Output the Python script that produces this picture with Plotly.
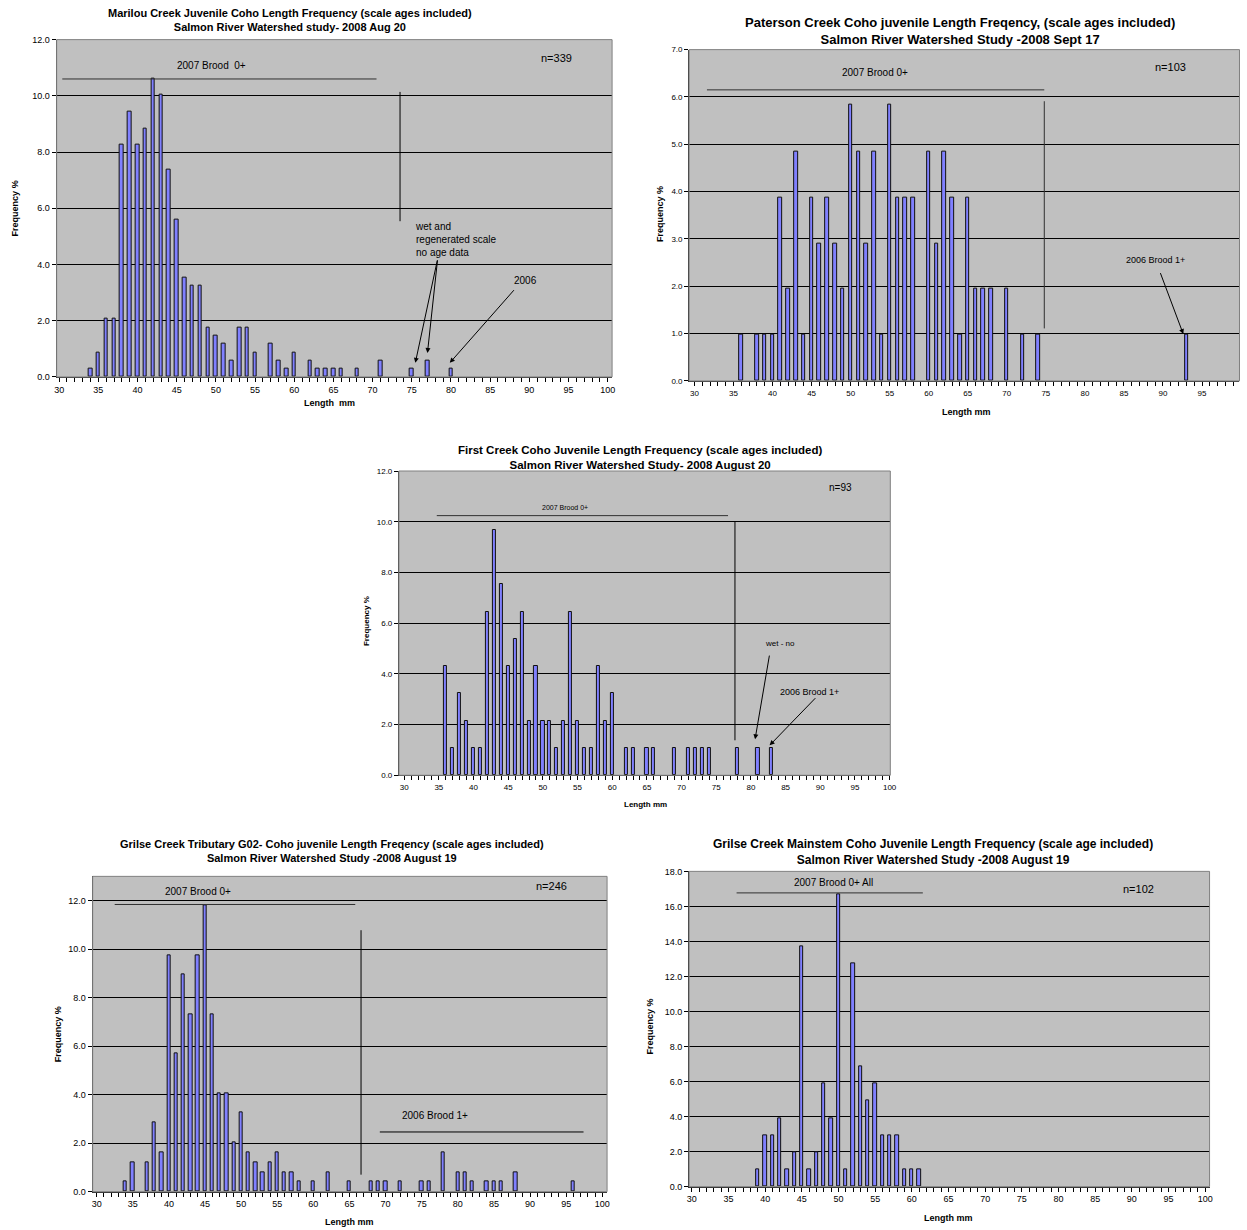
import plotly.graph_objects as go

W, H = 1247, 1230
FONT = "Liberation Sans, Arial, sans-serif"

# ---------------- data (length mm, frequency %) ----------------
marilou_len = [34, 35, 36, 37, 38, 39, 40, 41, 42, 43, 44, 45, 46, 47, 48, 49, 50, 51, 52, 53,
               54, 55, 57, 58, 59, 60, 62, 63, 64, 65, 66, 68, 71, 75, 77, 80]
marilou_pct = [0.29, 0.88, 2.06, 2.06, 8.26, 9.44, 8.26, 8.85, 10.62, 10.03, 7.37, 5.60, 3.54, 3.24,
               3.24, 1.77, 1.47, 1.18, 0.59, 1.77, 1.77, 0.88, 1.18, 0.59, 0.29, 0.88, 0.59, 0.29,
               0.29, 0.29, 0.29, 0.29, 0.59, 0.29, 0.59, 0.29]

paterson_len = [36, 38, 39, 40, 41, 42, 43, 44, 45, 46, 47, 48, 49, 50, 51, 52, 53, 54, 55, 56,
                57, 58, 60, 61, 62, 63, 64, 65, 66, 67, 68, 70, 72, 74, 93]
paterson_pct = [0.97, 0.97, 0.97, 0.97, 3.88, 1.94, 4.85, 0.97, 3.88, 2.91, 3.88, 2.91, 1.94, 5.83,
                4.85, 2.91, 4.85, 0.97, 5.83, 3.88, 3.88, 3.88, 4.85, 2.91, 4.85, 3.88, 0.97, 3.88,
                1.94, 1.94, 1.94, 1.94, 0.97, 0.97, 0.97]

first_len = [36, 37, 38, 39, 40, 41, 42, 43, 44, 45, 46, 47, 48, 49, 50, 51, 52, 53, 54, 55, 56,
             57, 58, 59, 60, 62, 63, 65, 66, 69, 71, 72, 73, 74, 78, 81, 83]
first_pct = [4.30, 1.08, 3.23, 2.15, 1.08, 1.08, 6.45, 9.68, 7.53, 4.30, 5.38, 6.45, 2.15, 4.30,
             2.15, 2.15, 1.08, 2.15, 6.45, 2.15, 1.08, 1.08, 4.30, 2.15, 3.23, 1.08, 1.08, 1.08,
             1.08, 1.08, 1.08, 1.08, 1.08, 1.08, 1.08, 1.08, 1.08]

g02_len = [34, 35, 37, 38, 39, 40, 41, 42, 43, 44, 45, 46, 47, 48, 49, 50, 51, 52, 53, 54, 55,
           56, 57, 58, 60, 62, 65, 68, 69, 70, 72, 75, 76, 78, 80, 81, 82, 84, 85, 86, 88, 96]
g02_pct = [0.41, 1.22, 1.22, 2.85, 1.63, 9.76, 5.69, 8.94, 7.32, 9.76, 11.79, 7.32, 4.07, 4.07,
           2.03, 3.25, 1.63, 1.22, 0.81, 1.22, 1.63, 0.81, 0.81, 0.41, 0.41, 0.81, 0.41, 0.41,
           0.41, 0.41, 0.41, 0.41, 0.41, 1.63, 0.81, 0.81, 0.41, 0.41, 0.41, 0.41, 0.81, 0.41]

mainstem_len = [39, 40, 41, 42, 43, 44, 45, 46, 47, 48, 49, 50, 51, 52, 53, 54, 55, 56, 57, 58,
                59, 60, 61]
mainstem_pct = [0.98, 2.94, 2.94, 3.92, 0.98, 1.96, 13.73, 0.98, 1.96, 5.88, 3.92, 16.67, 0.98,
                12.75, 6.86, 4.90, 5.88, 2.94, 2.94, 2.94, 0.98, 0.98, 0.98]

x_tick_vals = [30, 35, 40, 45, 50, 55, 60, 65, 70, 75, 80, 85, 90, 95, 100]

titles = [
    "Marilou Creek Juvenile Coho Length Frequency (scale ages included)<br>Salmon River Watershed study- 2008 Aug 20",
    "Paterson Creek Coho juvenile Length Freqency, (scale ages included)<br>Salmon River Watershed Study -2008 Sept 17",
    "First Creek Coho Juvenile Length Frequency (scale ages included)<br>Salmon River Watershed Study- 2008 August 20",
    "Grilse Creek Tributary G02- Coho juvenile Length Freqency (scale ages included)<br>Salmon River Watershed Study -2008 August 19",
    "Grilse Creek Mainstem Coho Juvenile Length Frequency (scale age included)<br>Salmon River Watershed Study -2008 August 19",
]
n_labels = ["n=339", "n=103", "n=93", "n=246", "n=102"]

# ---------------- layout helpers ----------------
SCX, OX = 0.992, 2.4
SCY, OY = 0.991, 6.4
RMAX = OX + SCX * W   # right-most reachable position


def fx(px):
    return min(max(((px - OX) / SCX) / W, 0.0), 1.0)


def fy(py):
    return min(max(1 - ((py - OY) / SCY) / H, 0.0), 1.0)


panels = [
    dict(x=marilou_len, y=marilou_pct, box=(57, 41, 612, 378), xr=[29.68, 100.56], ymax=12, dt=2,
         tick=9, tsize=11, tpos=(290, 21), ylab=(15, 210), xlab=(330, 404), xlabtxt="Length  mm", lab=9),
    dict(x=paterson_len, y=paterson_pct, box=(689, 51, 1244, 382), xr=[29.32, 100.45], ymax=7, dt=1,
         tick=8, tsize=13, tpos=(960, 32), ylab=(660, 215), xlab=(966, 413), xlabtxt="Length mm", lab=9),
    dict(x=first_len, y=first_pct, box=(399, 472, 890, 776), xr=[29.24, 100.1], ymax=12, dt=2,
         tick=8, tsize=11.5, tpos=(640, 459), ylab=(366, 622), xlab=(645, 805), xlabtxt="Length mm", lab=8),
    dict(x=g02_len, y=g02_pct, box=(93, 877, 607, 1192), xr=[29.45, 100.66], ymax=13, dt=2,
         tick=9, tsize=11, tpos=(332, 852), ylab=(58, 1035), xlab=(350, 1222), xlabtxt="Length mm", lab=9),
    dict(x=mainstem_len, y=mainstem_pct, box=(689, 872, 1209, 1187), xr=[29.63, 100.6], ymax=18, dt=2,
         tick=9, tsize=12, tpos=(933, 853), ylab=(650, 1027), xlab=(948, 1218), xlabtxt="Length mm", lab=9),
]

fig = go.Figure()
layout = dict(
    width=W, height=H,
    margin=dict(l=0, r=0, t=0, b=0),
    paper_bgcolor="white",
    plot_bgcolor="#c0c0c0",
    showlegend=False,
    font=dict(family=FONT, color="black"),
    bargap=0,
)
annotations = []
shapes = []

for i, p in enumerate(panels):
    sfx = "" if i == 0 else str(i + 1)
    xa, ya = "x" + sfx, "y" + sfx
    l, t, r, b = p["box"]
    xr = list(p["xr"])
    if r > RMAX - 0.5:   # keep the data scale when the box is clipped at the page edge
        ppm = (r - l) / (xr[1] - xr[0])
        r = RMAX - 0.5
        xr[1] = xr[0] + (r - l) / ppm
    fig.add_trace(go.Bar(
        x=p["x"], y=p["y"], xaxis=xa, yaxis=ya, width=0.45,
        marker=dict(color="#8080ff", line=dict(color="#101010", width=1)),
        hoverinfo="x+y",
    ))
    yt = [k * p["dt"] for k in range(int(p["ymax"] // p["dt"]) + 1)]
    layout["xaxis" + sfx] = dict(
        domain=[fx(l), fx(r)], anchor=ya, range=xr,
        tickmode="array", tickvals=x_tick_vals, ticks="outside", ticklen=4, tickcolor="black",
        minor=dict(dtick=1, tick0=30, ticks="outside", ticklen=4, tickcolor="black", showgrid=False),
        showgrid=False, zeroline=False, showline=True, linecolor="#303030", linewidth=1,
        tickfont=dict(size=p["tick"], family=FONT, color="black"),
    )
    layout["yaxis" + sfx] = dict(
        domain=[fy(b), fy(t)], anchor=xa, range=[0, p["ymax"]],
        tickmode="array", tickvals=yt, ticktext=[f"{v:.1f}" for v in yt],
        ticks="outside", ticklen=4, tickcolor="black",
        showgrid=True, gridcolor="black", gridwidth=1, zeroline=False,
        showline=True, linecolor="#303030", linewidth=1,
        tickfont=dict(size=p["tick"], family=FONT, color="black"),
    )
    shapes.append(dict(type="rect", xref=xa + " domain", yref=ya + " domain", x0=0, x1=1, y0=0, y1=1,
                       line=dict(color="#808080", width=1), layer="above"))
    annotations.append(dict(xref="paper", yref="paper", x=fx(p["tpos"][0]), y=fy(p["tpos"][1]),
                            text="<b>" + titles[i] + "</b>", showarrow=False, align="center",
                            xanchor="center", yanchor="middle",
                            font=dict(size=p["tsize"], family=FONT, color="black")))
    annotations.append(dict(xref="paper", yref="paper", x=fx(p["ylab"][0]), y=fy(p["ylab"][1]),
                            text="<b>Frequency %</b>", textangle=-90, showarrow=False,
                            xanchor="center", yanchor="middle",
                            font=dict(size=p["lab"], family=FONT, color="black")))
    annotations.append(dict(xref="paper", yref="paper", x=fx(p["xlab"][0]), y=fy(p["xlab"][1]),
                            text="<b>" + p["xlabtxt"] + "</b>", showarrow=False,
                            xanchor="center", yanchor="middle",
                            font=dict(size=p["lab"], family=FONT, color="black")))


def txt(ax, x, y, s, size=10, **kw):
    sfx = "" if ax == 1 else str(ax)
    d = dict(xref="x" + sfx, yref="y" + sfx, x=x, y=y, text=s, showarrow=False,
             font=dict(size=size, family=FONT, color="black"), xanchor="center", yanchor="middle")
    d.update(kw)
    annotations.append(d)


def arrow(ax, x_tail, y_tail, x_head, y_head):
    sfx = "" if ax == 1 else str(ax)
    annotations.append(dict(xref="x" + sfx, yref="y" + sfx, axref="x" + sfx, ayref="y" + sfx,
                            x=x_head, y=y_head, ax=x_tail, ay=y_tail, text="", showarrow=True,
                            arrowhead=2, arrowsize=1, arrowwidth=1, arrowcolor="black"))


def line(ax, x0, y0, x1, y1, color="#303030"):
    sfx = "" if ax == 1 else str(ax)
    shapes.append(dict(type="line", xref="x" + sfx, yref="y" + sfx, x0=x0, y0=y0, x1=x1, y1=y1,
                       line=dict(color=color, width=1)))


# Panel 1 annotations
line(1, 30.4, 10.6, 70.5, 10.6)
txt(1, 49.5, 11.07, "2007 Brood  0+", 10)
line(1, 73.5, 10.14, 73.5, 5.54, "black")
txt(1, 75.2, 4.9, "wet and<br>regenerated scale<br>no age data", 10, xanchor="left", align="left")
arrow(1, 78.3, 4.2, 75.45, 0.5)
arrow(1, 78.3, 4.2, 77.0, 0.85)
txt(1, 89.5, 3.44, "2006", 10)
arrow(1, 88.2, 3.14, 79.85, 0.5)
txt(1, 93.5, 11.36, n_labels[0], 11)

# Panel 2 annotations
line(2, 31.6, 6.15, 74.8, 6.15)
txt(2, 53.1, 6.51, "2007 Brood 0+", 10)
line(2, 74.8, 5.91, 74.8, 1.11)
txt(2, 90.9, 6.63, n_labels[1], 11)
txt(2, 89.1, 2.56, "2006 Brood 1+", 9)
arrow(2, 89.6, 2.31, 92.6, 0.99)

# Panel 3 annotations
line(3, 34.7, 10.24, 76.7, 10.24)
txt(3, 53.2, 10.57, "2007 Brood 0+", 7)
line(3, 77.7, 10.0, 77.7, 1.38, "black")
txt(3, 92.9, 11.36, n_labels[2], 10)
txt(3, 84.2, 5.21, "wet - no", 8)
arrow(3, 82.7, 4.78, 80.6, 1.42)
txt(3, 88.4, 3.29, "2006 Brood 1+", 9)
arrow(3, 89.5, 3.1, 82.7, 1.18)

# Panel 4 annotations
line(4, 32.5, 11.84, 65.8, 11.84)
txt(4, 44.07, 12.36, "2007 Brood 0+", 10)
line(4, 66.6, 10.78, 66.6, 0.7, "black")
txt(4, 93.0, 12.59, n_labels[3], 11)
txt(4, 76.85, 3.13, "2006 Brood 1+", 10)
line(4, 69.2, 2.46, 97.4, 2.46, "black")

# Panel 5 annotations
line(5, 36.1, 16.77, 61.5, 16.77)
txt(5, 49.3, 17.34, "2007 Brood 0+ All", 10)
txt(5, 90.9, 17.0, n_labels[4], 11)

layout["annotations"] = annotations
layout["shapes"] = shapes
fig.update_layout(**layout)
fig.write_html("out.html", config={"displayModeBar": False},
               post_script="document.body.style.margin='0';document.body.style.overflow='hidden';")
